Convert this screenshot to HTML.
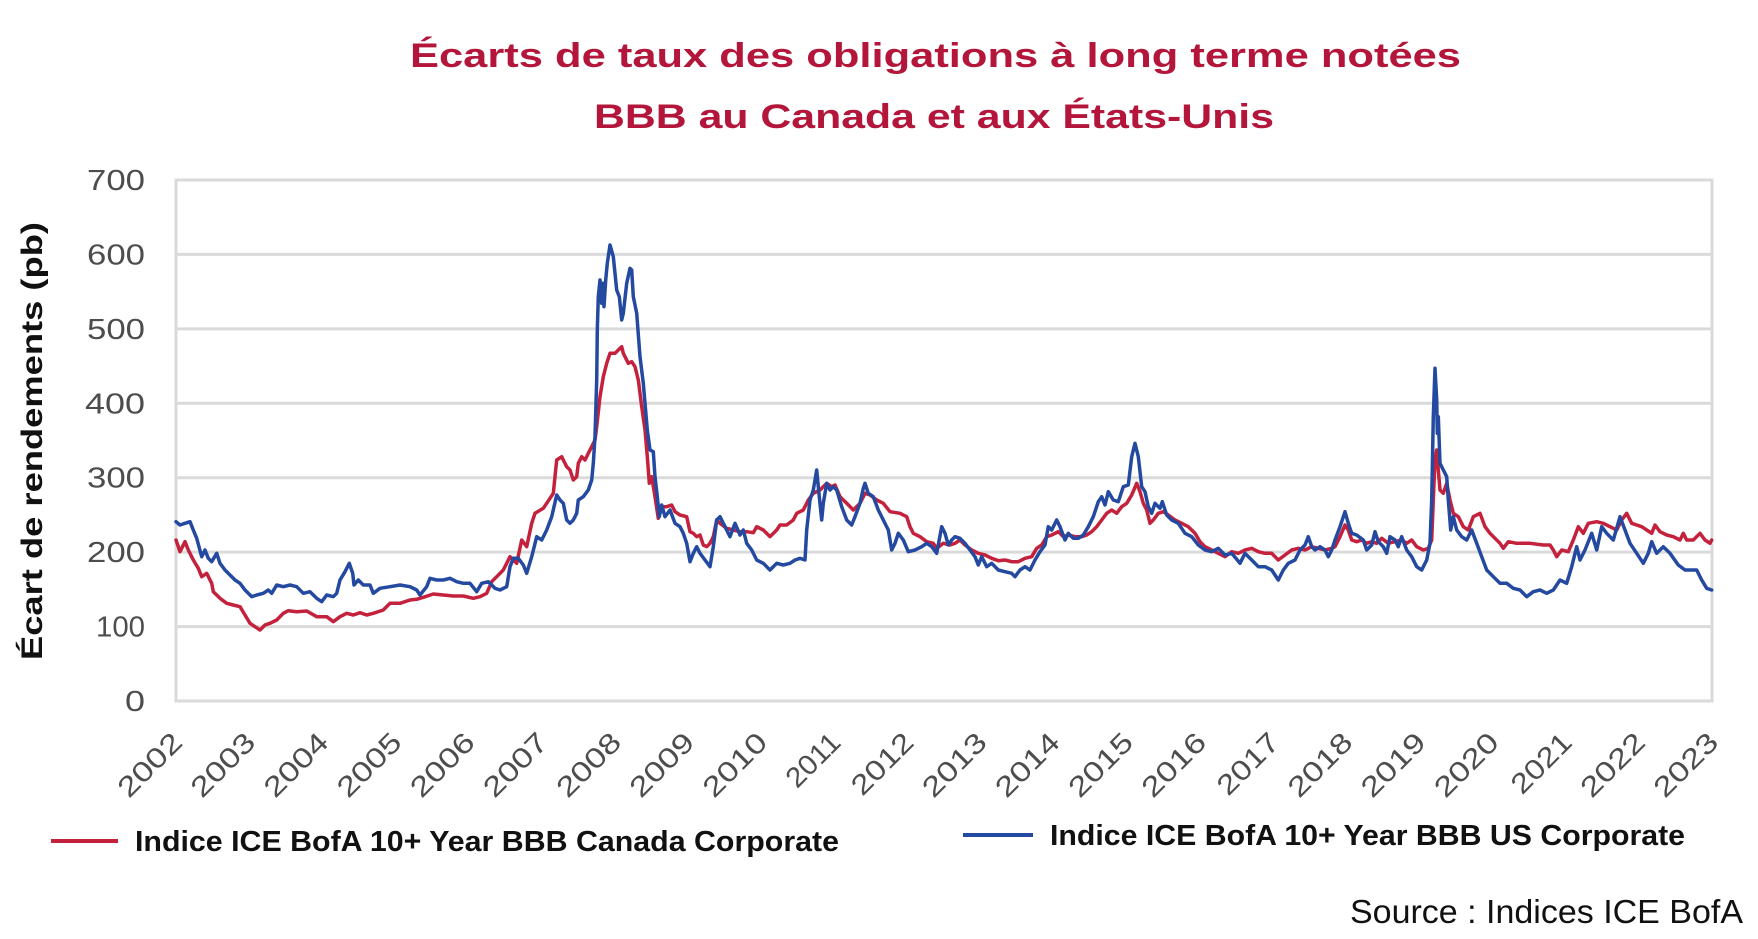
<!DOCTYPE html>
<html>
<head>
<meta charset="utf-8">
<style>
html,body{margin:0;padding:0;background:#fff;}
svg{display:block;}
text{font-family:"Liberation Sans",sans-serif;}
</style>
</head>
<body>
<svg width="1758" height="939" viewBox="0 0 1758 939" xmlns="http://www.w3.org/2000/svg">
<rect x="0" y="0" width="1758" height="939" fill="#ffffff"/>

<!-- Title -->
<text x="410" y="67" font-size="34" font-weight="bold" fill="#b3163a" textLength="1051" lengthAdjust="spacingAndGlyphs">Écarts de taux des obligations à long terme notées</text>
<text x="594" y="128" font-size="34" font-weight="bold" fill="#b3163a" textLength="680" lengthAdjust="spacingAndGlyphs">BBB au Canada et aux États-Unis</text>

<!-- Gridlines -->
<g stroke="#dadada" stroke-width="3" fill="none">
<line x1="176" y1="180" x2="1712" y2="180"/>
<line x1="176" y1="254.4" x2="1712" y2="254.4"/>
<line x1="176" y1="328.9" x2="1712" y2="328.9"/>
<line x1="176" y1="403.3" x2="1712" y2="403.3"/>
<line x1="176" y1="477.7" x2="1712" y2="477.7"/>
<line x1="176" y1="552.1" x2="1712" y2="552.1"/>
<line x1="176" y1="626.6" x2="1712" y2="626.6"/>
<line x1="176" y1="701" x2="1712" y2="701"/>
<line x1="176" y1="178.5" x2="176" y2="702.5"/>
<line x1="1712" y1="178.5" x2="1712" y2="702.5"/>
</g>

<!-- Y tick labels -->
<g font-size="29" fill="#4d4d4d" text-anchor="end">
<text x="145" y="190" textLength="58" lengthAdjust="spacingAndGlyphs">700</text>
<text x="145" y="264.4" textLength="58" lengthAdjust="spacingAndGlyphs">600</text>
<text x="145" y="338.9" textLength="58" lengthAdjust="spacingAndGlyphs">500</text>
<text x="145" y="413.3" textLength="60" lengthAdjust="spacingAndGlyphs">400</text>
<text x="145" y="487.7" textLength="58" lengthAdjust="spacingAndGlyphs">300</text>
<text x="145" y="562.1" textLength="58" lengthAdjust="spacingAndGlyphs">200</text>
<text x="145" y="636.6" textLength="49" lengthAdjust="spacingAndGlyphs">100</text>
<text x="145" y="711" textLength="20" lengthAdjust="spacingAndGlyphs">0</text>
</g>

<!-- Y axis title -->
<text transform="translate(42,441) rotate(-90)" text-anchor="middle" font-size="30" font-weight="bold" fill="#111" textLength="438" lengthAdjust="spacingAndGlyphs">Écart de rendements (pb)</text>

<!-- X tick labels -->
<g font-size="28" fill="#4d4d4d" text-anchor="end">
<text transform="translate(184,744) rotate(-45)" textLength="78" lengthAdjust="spacingAndGlyphs">2002</text>
<text transform="translate(257.1,744) rotate(-45)" textLength="78" lengthAdjust="spacingAndGlyphs">2003</text>
<text transform="translate(330.3,744) rotate(-45)" textLength="78" lengthAdjust="spacingAndGlyphs">2004</text>
<text transform="translate(403.4,744) rotate(-45)" textLength="78" lengthAdjust="spacingAndGlyphs">2005</text>
<text transform="translate(476.6,744) rotate(-45)" textLength="78" lengthAdjust="spacingAndGlyphs">2006</text>
<text transform="translate(549.7,744) rotate(-45)" textLength="78" lengthAdjust="spacingAndGlyphs">2007</text>
<text transform="translate(622.9,744) rotate(-45)" textLength="78" lengthAdjust="spacingAndGlyphs">2008</text>
<text transform="translate(696,744) rotate(-45)" textLength="78" lengthAdjust="spacingAndGlyphs">2009</text>
<text transform="translate(769.1,744) rotate(-45)" textLength="78" lengthAdjust="spacingAndGlyphs">2010</text>
<text transform="translate(842.3,744) rotate(-45)" textLength="64" lengthAdjust="spacingAndGlyphs">2011</text>
<text transform="translate(915.4,744) rotate(-45)" textLength="75" lengthAdjust="spacingAndGlyphs">2012</text>
<text transform="translate(988.6,744) rotate(-45)" textLength="78" lengthAdjust="spacingAndGlyphs">2013</text>
<text transform="translate(1061.7,744) rotate(-45)" textLength="78" lengthAdjust="spacingAndGlyphs">2014</text>
<text transform="translate(1134.9,744) rotate(-45)" textLength="78" lengthAdjust="spacingAndGlyphs">2015</text>
<text transform="translate(1208,744) rotate(-45)" textLength="78" lengthAdjust="spacingAndGlyphs">2016</text>
<text transform="translate(1281.1,744) rotate(-45)" textLength="75" lengthAdjust="spacingAndGlyphs">2017</text>
<text transform="translate(1354.3,744) rotate(-45)" textLength="78" lengthAdjust="spacingAndGlyphs">2018</text>
<text transform="translate(1427.4,744) rotate(-45)" textLength="78" lengthAdjust="spacingAndGlyphs">2019</text>
<text transform="translate(1500.6,744) rotate(-45)" textLength="78" lengthAdjust="spacingAndGlyphs">2020</text>
<text transform="translate(1573.7,744) rotate(-45)" textLength="73" lengthAdjust="spacingAndGlyphs">2021</text>
<text transform="translate(1646.9,744) rotate(-45)" textLength="78" lengthAdjust="spacingAndGlyphs">2022</text>
<text transform="translate(1720,744) rotate(-45)" textLength="78" lengthAdjust="spacingAndGlyphs">2023</text>
</g>

<!-- Red series: Canada -->
<polyline fill="none" stroke="#c4213d" stroke-width="3.5" stroke-linejoin="round" stroke-linecap="round" points="
176,540 180,551.7 185,541.7 188.3,550 193.3,560 198.3,568.3 201.7,576.7 206.7,573.3 211.7,583.3 213.3,591.7 220,598.3 226.7,603.3 233.3,605 240,606.7 245,615 250,623.3 255,626.7 260,630 265,625 270,623.3 276.7,620 283.3,613.3 288.3,610.7 296.7,611.7 306.7,611 316.7,616.7 326.7,616.7 333.3,621.7 340,616.7 346.7,613.3 353.3,615 360,612.7 366.7,615 373.3,613.3 383.3,610 390,603.3 400,603.3 410,600 416.7,599.3 423.3,597.3 433.3,594 443.3,595 453.3,596 463.3,596 473.3,598.3 480,596.7 486.7,593.3 491.7,581.7 496.7,576.7 503.3,570 510,556.7 516.7,563.3 521.7,540 526.7,546.7 531.7,523.3 535,513.3 543.3,508.3 550,498.3 553.3,493.3 555,476.7 556.7,460 561.7,456.7
563.3,460 566.7,466.7 570,470 573.3,480 576.7,476.7 578.3,463.3 581.7,456.7 585,460 588.3,453.3 591.7,446.7 595,440 596.7,426.7 600,396.7 603.3,376.7 606.7,363.3 610,353.3 615,353.3 618.3,350 621.7,346.7 623.3,353.3 625,356.7 628.3,363.3 631.7,361.7 635,366.7 638.3,380 641.7,406.7 645,430 647.3,456.7 649.3,483.3 651.7,476.7 655,496.7 658.3,518.3 661.7,506.7 666.7,506.7 671.7,505 675,511.7 680,515 686.7,516.7 690,531.7 693.3,533.3 696.7,536.7 700,535 703.3,545 706.7,546.7 710,543.3 713.3,536.7 716.7,520 720,523.3 726.7,528.3 733.3,530 740,531.7 746.7,531.7 753.3,532.7 756.7,526.7 763.3,530 770,536.7 776.7,530 780,525 786.7,525 793.3,520 796.7,513.3 803.3,510 808.3,500 813.3,493.3 820,490 826.7,483.3 831.7,486.7 835,485 840,496.7 846.7,503.3 853.3,510 860,503.3 865,493.3 870,495 876.7,500 883.3,503.3 890,511.7 900,513.3 906.7,516.7 910,526.7 913.3,533.3 920,536.7 926.7,541.7 933.3,543.3 936.7,548.3 943.3,543.3
950,545 955,543.3 960,540 965,545 971.7,550 978.3,553.3 985,555 991.7,558.3 998.3,560.7 1005,560 1011.7,561.7 1018.3,561.7 1025,558.3 1031.7,556.7 1036.7,548.3 1041.7,545 1046.7,536.7 1051.7,535 1058.3,531.7 1063.3,536.7 1068.3,535 1075,536.7 1081.7,536.7 1086.7,535 1091.7,531.7 1096.7,526.7 1101.7,520 1106.7,513.3 1111.7,510 1116.7,513.3 1121.7,506.7 1126.7,503.3 1131.7,495 1136.7,483.3 1140,491.7 1143.3,503.3 1146.7,510 1150,523.3 1153.3,520 1158.3,513.3 1163.3,511.7 1168.3,515 1175,520 1181.7,523.3 1188.3,526.7 1195,533.3 1200,541.7 1205,546.7 1211.7,550 1218.3,553.3 1225,556.7 1231.7,551.7 1238.3,553.3 1245,550 1251.7,548.3 1258.3,551.7 1265,553.3 1271.7,553.3 1278.3,560 1285,555 1291.7,550 1298.3,548.3 1305,550 1311.7,546.7 1318.3,548.3 1325,550 1331.7,548.3
1335,546.7 1340,536.7 1345,525 1348.3,530 1351.7,540 1356.7,541.7 1361.7,540 1366.7,543.3 1371.7,541.7 1376.7,543.3 1381.7,538.3 1388.3,543.3 1395,541.7 1401.7,540 1406.7,543.3 1411.7,540 1416.7,546.7 1423.3,550 1428.3,548.3 1431.7,540 1433.3,500 1435,460 1436.7,450 1438.3,470 1440,490 1443.3,493.3 1446.7,483.3 1450,500 1453.3,513.3 1458.3,516.7 1463.3,526.7 1468.3,530 1473.3,516.7 1480,513.3 1485,526.7 1490,533.3 1495,538.3 1500,543.3 1503.3,548.3 1508.3,541.7 1516.7,543.3 1530,543.3 1543.3,545 1550,545 1553.3,550 1556.7,556.7 1561.7,550 1568.3,551.7 1573.3,540 1578.3,526.7 1583.3,533.3 1588.3,523.3 1596.7,521.7 1603.3,523.3 1610,526.7 1616.7,530 1621.7,520 1626.7,513.3 1631.7,523.3 1636.7,525 1641.7,526.7 1646.7,530 1651.7,533.3 1655,525 1660,531.7 1666.7,535 1673.3,536.7 1680,540 1683.3,533.3 1686.7,540 1693.3,540 1700,533.3 1705,540 1710,543.3 1711.7,540"/>

<!-- Blue series: US -->
<polyline fill="none" stroke="#2449a0" stroke-width="3.5" stroke-linejoin="round" stroke-linecap="round" points="
176,521.7 180,525 185,523.3 190,521.7 193.3,530 196.7,538.3 201.7,556.7 205,550 208.3,558.3 211.7,561.7 216.7,553.3 220,563.3 225,570 230,575 235,580 240,583.3 245,590 251.7,596.7 256.7,595 263.3,593.3 268.3,590 271.7,593.3 276.7,585 283.3,586.7 290,585 296.7,586.7 303.3,593.3 310,591.7 316.7,598.3 321.7,601.7 326.7,595 333.3,596.7 336.7,593.3 340,580 345,571.7 349.3,563.3 352.7,573.3 354,585 358.3,580 363.3,585 370,585 373.3,593.3 380,588.3 390,586.7 400,585 410,586.7 416.7,590 420,595 426.7,586.7 430,578.3 436.7,580 443.3,580 450,578.3 456.7,581.7 463.3,583.3 470,583.3 476.7,591.7 481.7,583.3 488.3,581.7 495,588.3 500,590 506.7,586.7 510,566.7 513.3,558.3 518.3,558.3 523.3,565 526.7,573.3 531.7,556.7 536.7,536.7 541.7,540 546.7,530 551.7,516.7 556.7,495 560,500
563.3,503.3 566.7,520 570,523.3 573.3,520 576.7,513.3 578.3,500 583.3,496.7 588.3,490 591.7,480 593.3,463.3 595,436.7 596.7,380 597.3,330 598.3,296.7 600,280 601.7,303.3 602.7,283.3 604,306.7 605.7,280 607.3,263.3 610,245 613.3,256.7 615,273.3 616.7,290 619.3,296.7 621.7,320 623.3,313.3 626.7,283.3 630,268.3 631.7,270 633.3,296.7 636.7,313.3 640,356.7 643.3,383.3 645,403.3 647.3,430 650,450 653.3,451.7 655,476.7 657.3,496.7 659.3,516.7 661.7,505 665,516.7 670,510 675,523.3 680,526.7 683.3,533.3 686.7,543.3 690,561.7 693.3,553.3 696.7,546.7 700,553.3 705,560 710,566.7 713.3,546.7 716.7,520 720,516.7 725,526.7 730,536.7 735,523.3 740,535 743.3,530 746.7,543.3 751.7,550 756.7,560 763.3,563.3 770,570 776.7,563.3 783.3,565 790,563.3 795,560 800,558.3 805,560 806.7,530 810,500 813.3,490 816.7,470 819.3,496.7 821.7,520 823.3,503.3 826.7,483.3 830,490 833.3,486.7 836.7,490 841.7,506.7 846.7,520 851.7,525 855,516.7 860,503.3 863.3,488.3 865,483.3 868.3,493.3 873.3,496.7 878.3,510 883.3,520 888.3,530 891.7,550 895,543.3 898.3,533.3 903.3,540 908.3,551.7 915,550 921.7,546.7 926.7,543.3 931.7,546.7 936.7,553.3 941.7,526.7 945,533.3
948.3,545 951.7,540 955,536.7 960,538.3 965,543.3 970,550 975,556.7 978.3,565 981.7,556.7 986.7,566.7 991.7,563.3 998.3,570 1005,571.7 1011.7,573.3 1015,576.7 1020,570 1025,566.7 1030,570 1035,560 1040,551.7 1045,545 1048.3,526.7 1051.7,530 1056.7,520 1060,526.7 1065,540 1068.3,533.3 1073.3,538.3 1078.3,538.3 1083.3,535 1088.3,526.7 1093.3,516.7 1098.3,501.7 1101.7,496.7 1105,505 1108.3,491.7 1113.3,500 1118.3,501.7 1123.3,486.7 1128.3,485 1131.7,456.7 1135,443.3 1138.3,456.7 1141.7,486.7 1145,491.7 1148.3,506.7 1151.7,513.3 1155,503.3 1160,508.3 1162.3,501.7 1166.7,515 1171.7,520 1178.3,523.3 1185,533.3 1191.7,536.7 1198.3,545 1205,550 1211.7,551.7 1218.3,548.3 1225,555 1231.7,553.3 1240,563.3 1245,553.3 1251.7,560 1258.3,566.7 1265,566.7 1271.7,570 1278.3,580 1283.3,570 1288.3,563.3 1295,560 1300,550 1305,545 1308.3,536.7 1311.7,546.7 1315,550 1320,546.7 1325,550 1328.3,556.7 1331.7,550
1335,540 1340,526.7 1345,511.7 1348.3,523.3 1351.7,533.3 1356.7,535 1363.3,540 1366.7,550 1371.7,545 1375,531.7 1378.3,541.7 1383.3,546.7 1386.7,553.3 1390,536.7 1395,540 1398.3,546.7 1401.7,536.7 1406.7,550 1411.7,556.7 1416.7,566.7 1421.7,570 1426.7,560 1430,543.3 1431.7,500 1433.3,416.7 1435,368.3 1436.7,400 1437.3,433.3 1438.3,416.7 1440,463.3 1443.3,470 1446.7,476.7 1448.3,500 1450.7,530 1453.3,516.7 1456.7,530 1461.7,536.7 1466.7,540 1471.7,530 1476.7,543.3 1481.7,556.7 1486.7,570 1493.3,576.7 1500,583.3 1506.7,583.3 1513.3,588.3 1520,590 1526.7,596.7 1533.3,591.7 1540,590 1546.7,593.3 1553.3,590 1560,580 1566.7,583.3 1571.7,566.7 1576.7,546.7 1580,560 1585,550 1591.7,533.3 1596.7,550 1601.7,526.7 1606.7,533.3 1613.3,540 1620,516.7 1625,530 1630,543.3 1636.7,553.3 1643.3,563.3 1648.3,553.3 1651.7,541.7 1656.7,553.3 1663.3,546.7 1670,553.3 1678.3,565 1685,570 1691.7,570 1696.7,570 1701.7,580 1706.7,588.3 1711.7,590"/>

<!-- Legend -->
<line x1="51" y1="841" x2="118" y2="841" stroke="#c4213d" stroke-width="4"/>
<text x="135" y="851" font-size="29" font-weight="bold" fill="#111" textLength="704" lengthAdjust="spacingAndGlyphs">Indice ICE BofA 10+ Year BBB Canada Corporate</text>
<line x1="963" y1="835" x2="1033" y2="835" stroke="#2449a0" stroke-width="4"/>
<text x="1050" y="845" font-size="29" font-weight="bold" fill="#111" textLength="635" lengthAdjust="spacingAndGlyphs">Indice ICE BofA 10+ Year BBB US Corporate</text>

<!-- Source -->
<text x="1350" y="923" font-size="33" fill="#111" textLength="393" lengthAdjust="spacingAndGlyphs">Source : Indices ICE BofA</text>
</svg>
</body>
</html>
